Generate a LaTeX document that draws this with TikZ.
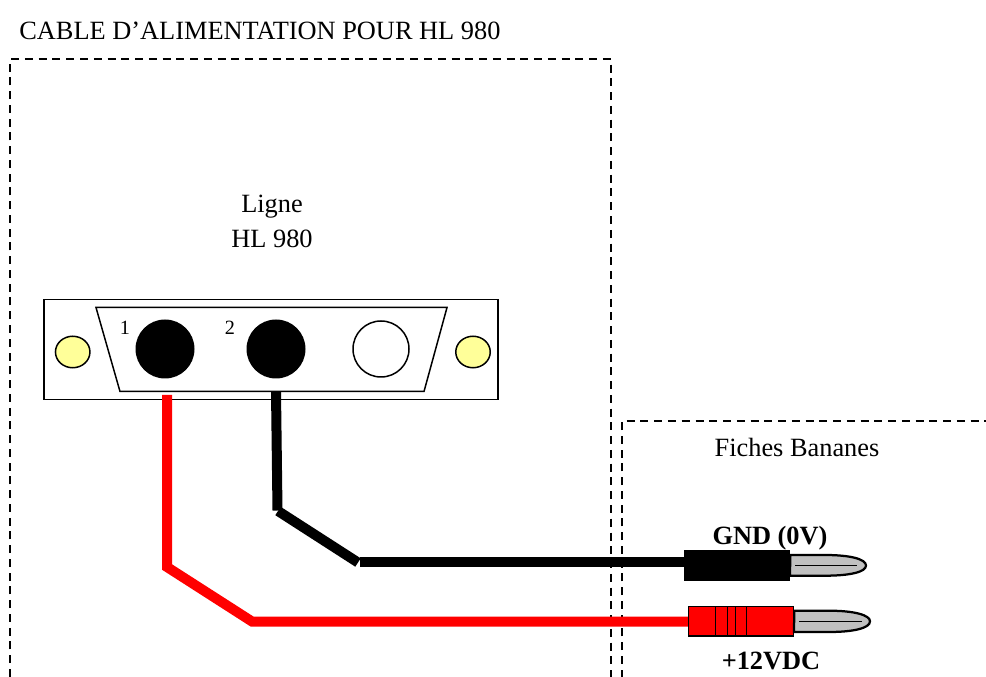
\documentclass[tikz,border=0pt]{standalone}
\usepackage{fontspec}
\setmainfont{Liberation Serif}
\usetikzlibrary{shapes.geometric}
\definecolor{screw_col}{HTML}{FFFF99}
\definecolor{tip_col}{HTML}{C0C0C0}
\tikzset{
	border_line/.style={line width=0.33mm,dash pattern=on 1.6mm off 1.152mm},
	pin_node/.style={circle,draw,line width=0.3mm,inner sep=0pt},
	screw_node/.style={ellipse,draw,line width=0.3mm,fill=screw_col,inner sep=0pt,minimum width=6.9mm,minimum height=6.3mm},
	wire_line/.style={line width=2mm},
	body_node/.style={rectangle,draw=black,line width=0.3mm,inner sep=0pt,minimum width=21mm,minimum height=5.9mm},
	tip_line/.style={draw,line width=0.45mm,fill=tip_col},
	label_node/.style={inner sep=0pt,font=\fontsize{15}{18}\selectfont},
}
\begin{document}
\begin{tikzpicture}[x=0.2mm,y=-0.2mm]
	\useasboundingbox (0,0) rectangle (986,677);
	\node[label_node,anchor=base west] (title) at (19,39.5) {CABLE D’ALIMENTATION POUR HL 980};
	% dashed boxes
	\coordinate (left_a) at (10,677);
	\coordinate (left_b) at (10,59);
	\coordinate (left_c) at (611,59);
	\coordinate (left_d) at (611,677);
	\coordinate (right_a) at (622,677);
	\coordinate (right_b) at (622,421);
	\coordinate (right_c) at (986,421);
	\draw[border_line] (left_a) -- (left_b) -- (left_c) -- (left_d);
	\draw[border_line,dash phase=0.15mm] (right_a) -- (right_b) -- (right_c);
	\node[label_node,anchor=base] (ligne) at (272,212.5) {Ligne};
	\node[label_node,anchor=base] (hl) at (272,247.5) {HL 980};
	\node[label_node,anchor=base] (fiches) at (797,456.5) {Fiches Bananes};
	% connector
	\node[rectangle,draw,line width=0.3mm,inner sep=0pt,minimum width=90.8mm,minimum height=20mm] (plate) at (271,349.5) {};
	\coordinate (shell_a) at (96,307.5);
	\coordinate (shell_b) at (447,307.5);
	\coordinate (shell_c) at (424,391.5);
	\coordinate (shell_d) at (120,391.5);
	\draw[line width=0.3mm] (shell_a) -- (shell_b) -- (shell_c) -- (shell_d) -- cycle;
	\node[screw_node] (screw_l) at (72.7,352) {};
	\node[screw_node] (screw_r) at (473,352) {};
	\node[pin_node,fill=black,minimum size=11.5mm] (pin_1) at (165,349) {};
	\node[pin_node,fill=black,minimum size=11.5mm] (pin_2) at (276,349) {};
	\node[pin_node,minimum size=11.2mm] (pin_3) at (381,349) {};
	\node[inner sep=0pt,font=\fontsize{11.5}{13}\selectfont] (num_1) at (125,328) {1};
	\node[inner sep=0pt,font=\fontsize{11.5}{13}\selectfont] (num_2) at (230,328) {2};
	% wires
	\coordinate (red_a) at (167,395);
	\coordinate (red_b) at (167,567);
	\coordinate (red_c) at (252,621.5);
	\coordinate (black_a) at (276,391.5);
	\coordinate (black_b) at (277.5,510.5);
	\coordinate (black_c) at (278,511);
	\coordinate (black_d) at (358,562.5);
	\coordinate (black_e) at (360,562.3);
	\node[body_node,fill=black] (plug_black) at (737,565.3) {};
	\node[body_node,fill=red] (plug_red) at (741,621.3) {};
	\draw[wire_line,red] (red_a) -- (red_b) -- (red_c) -- (plug_red.west |- red_c);
	\draw[wire_line,black] (black_a) -- (black_b);
	\draw[wire_line,black] (black_c) -- (black_d);
	\draw[wire_line,black] (black_e) -- (plug_black.west |- black_e);
	% bands of the plugs
	\foreach \xb in {711.7,723.3,731.7,742.7}
		\draw[line width=0.2mm,black] (\xb,550) -- (\xb,581);
	\foreach \xb in {715.7,727.3,735.3,746.7}
		\draw[line width=0.3mm,black] (\xb,606.7) -- (\xb,636);
	% tips
	\coordinate (tip_black) at (866,565.5);
	\coordinate (tip_red) at (870,621.3);
	\path[tip_line] (plug_black.east) ++(0,-10.3) -- (825,555) .. controls (850,555) and (866,559) .. (tip_black) .. controls (866,572) and (850,575.7) .. (825,575.7) -- (790,575.7) -- cycle;
	\path[tip_line] (plug_red.east) ++(0,-10.6) -- (829,610.7) .. controls (854,610.7) and (870,615) .. (tip_red) .. controls (870,628) and (854,632) .. (829,632) -- (794,632) -- cycle;
	\draw[line width=0.3mm] (795,565.3) -- (857,565.3);
	\draw[line width=0.3mm] (799,621.3) -- (862,621.3);
	\node[label_node,anchor=base,font=\fontsize{15}{18}\selectfont\bfseries] (gnd) at (770,544) {GND (0V)};
	\node[label_node,anchor=base,font=\fontsize{15}{18}\selectfont\bfseries] (vdc) at (771,669) {+12VDC};
\end{tikzpicture}
\end{document}
